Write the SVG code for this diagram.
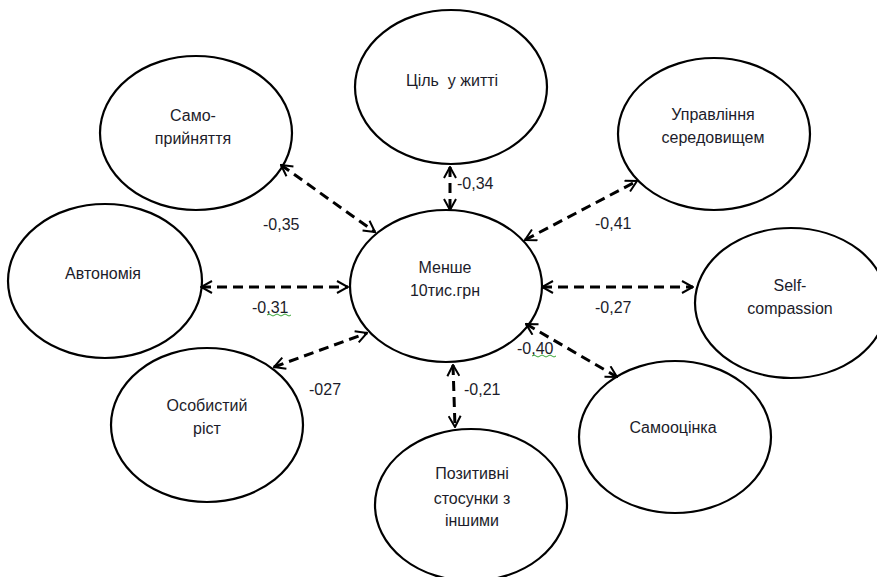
<svg xmlns="http://www.w3.org/2000/svg" width="877" height="577" viewBox="0 0 877 577">
<style>
.node ellipse{fill:#fff;stroke:#000;stroke-width:2.2}
.lbl{font-family:"Liberation Sans",Arial,sans-serif;font-size:16px;fill:#1c1c2a;text-anchor:middle;white-space:pre}
.num{font-family:"Liberation Sans",Arial,sans-serif;font-size:16px;fill:#1c1c2a}
.conn line{stroke:#000;stroke-width:3;stroke-dasharray:10 6;marker-start:url(#ah);marker-end:url(#ah)}
.sq{fill:none;stroke:#3aa83a;stroke-width:1}
</style>
<defs>
<marker id="ah" viewBox="0 0 13 14" refX="12" refY="7" markerWidth="13" markerHeight="14" markerUnits="userSpaceOnUse" orient="auto-start-reverse">
<path d="M1,1 L12,7 L1,13" fill="none" stroke="#000" stroke-width="2"/>
</marker>
</defs>
<rect width="877" height="577" fill="#fff"/>
<g id="n-tsil" class="node"><ellipse cx="451" cy="87" rx="96" ry="77"/><text class="lbl" x="452" y="86">Ціль  у житті</text></g>
<g id="n-samopryiniattia" class="node"><ellipse cx="196" cy="133" rx="96" ry="77"/><text class="lbl" x="193" y="121">Само-</text><text class="lbl" x="193" y="144">прийняття</text></g>
<g id="n-upravlinnia" class="node"><ellipse cx="714" cy="134" rx="96" ry="76"/><text class="lbl" x="713" y="120">Управління</text><text class="lbl" x="713" y="143">середовищем</text></g>
<g id="n-avtonomiia" class="node"><ellipse cx="105" cy="281" rx="97" ry="77"/><text class="lbl" x="103" y="279">Автономія</text></g>
<g id="n-centre" class="node"><ellipse cx="446" cy="286" rx="96" ry="76"/><text class="lbl" x="445" y="273">Менше</text><text class="lbl" x="445" y="296">10тис.грн</text></g>
<g id="n-self" class="node"><ellipse cx="791" cy="303" rx="96" ry="75"/><text class="lbl" x="790" y="291">Self-</text><text class="lbl" x="790" y="314">compassion</text></g>
<g id="n-osobystyi" class="node"><ellipse cx="207" cy="425" rx="96" ry="77"/><text class="lbl" x="207" y="411">Особистий</text><text class="lbl" x="207" y="434">ріст</text></g>
<g id="n-pozytyvni" class="node"><ellipse cx="471" cy="505" rx="96" ry="76"/><text class="lbl" x="472" y="479">Позитивні</text><text class="lbl" x="472" y="504">стосунки з</text><text class="lbl" x="472" y="526">іншими</text></g>
<g id="n-samootsinka" class="node"><ellipse cx="675" cy="437" rx="96" ry="76"/><text class="lbl" x="673" y="433">Самооцінка</text></g>
<g id="connectors" class="conn">
<line x1="281" y1="165" x2="375" y2="232"/>
<line x1="450" y1="167" x2="450" y2="210"/>
<line x1="201" y1="287" x2="348" y2="287"/>
<line x1="274" y1="367" x2="367" y2="333"/>
<line x1="453" y1="365" x2="455" y2="427"/>
<line x1="525" y1="240" x2="637" y2="181"/>
<line x1="542" y1="287" x2="693" y2="287"/>
<line x1="526" y1="324" x2="617" y2="377"/>
</g>
<g id="labels">
<text class="num" x="457" y="189">-0,34</text>
<text class="num" x="263" y="230">-0,35</text>
<text class="num" x="595" y="229">-0,41</text>
<text class="num" x="252" y="313">-0,31</text>
<text class="num" x="595" y="313">-0,27</text>
<text class="num" x="517" y="354">-0,40</text>
<text class="num" x="309" y="395">-027</text>
<text class="num" x="464" y="395">-0,21</text>
<path class="sq" d="M267,315 q2,-2 4,0 t4,0 t4,0 t4,0 t4,0 t4,0"/>
<path class="sq" d="M532,356 q2,-2 4,0 t4,0 t4,0 t4,0 t4,0 t4,0"/>
</g>
</svg>
